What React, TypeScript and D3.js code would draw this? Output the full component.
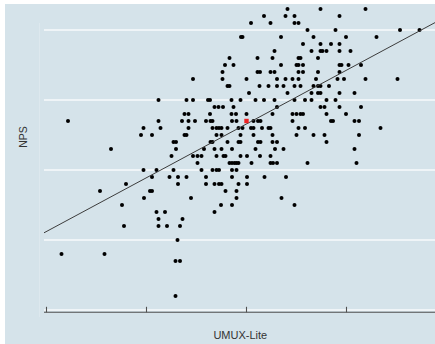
import { useEffect, useRef } from 'react';
import * as d3 from 'd3';

const X_TICKS = [20, 40, 60, 80];
const Y_GRID = [-100, -50, 0, 50, 100];

// NPS level of each row of points, and the UMUX-Lite scores sitting on that row
const NPS_LEVELS = [115, 110, 105, 100, 95, 90, 85, 80, 75, 70, 65, 60, 55, 50, 45, 40, 35, 30, 25, 20, 15, 10, 5, 0, -5, -10, -15, -20, -25, -30, -35, -40, -50, -60, -65, -90];
const UMUX_BY_LEVEL = [
  [68.2, 74.8, 83.8],
  [63.5, 67.8, 69.6, 78.6],
  [60.9, 64.8, 69.6, 70.4],
  [72.2, 77.8, 90.7, 94.6],
  [58.9, 59.2, 66.9, 73.4, 79.9, 86.0],
  [71.3, 74.8, 76.9, 78.6],
  [65.6, 73.0, 74.8, 75.2, 76.0, 78.6, 80.8],
  [56.6, 62.2, 65.2, 70.4, 70.8, 74.3],
  [55.7, 57.4, 66.9, 70.0, 70.4, 71.3, 78.6, 79.0, 80.4, 82.9],
  [55.2, 62.2, 62.7, 64.8, 65.6, 70.4, 71.3, 74.3, 78.6],
  [49.3, 55.2, 60.0, 66.1, 67.8, 69.2, 70.4, 73.9, 78.2, 79.5, 83.8, 90.2],
  [56.2, 56.6, 62.6, 64.4, 66.1, 67.4, 69.6, 70.8, 73.4, 74.3, 74.8, 76.5],
  [60.5, 68.2, 73.0, 74.3, 74.8, 78.6, 81.6],
  [42.4, 48.0, 49.3, 52.3, 52.7, 57.0, 58.8, 61.8, 63.5, 65.6, 69.6, 71.7, 73.0, 76.0, 77.8],
  [53.6, 54.4, 55.3, 57.4, 66.1, 74.8, 75.6, 78.6, 82.9],
  [47.6, 48.4, 52.7, 57.0, 57.9, 60.0, 65.2, 69.2, 70.0, 70.8, 71.3, 76.0, 79.9],
  [24.3, 42.4, 47.1, 48.4, 49.7, 51.9, 52.8, 53.2, 57.1, 58.0, 61.4, 62.3, 62.8, 69.2, 76.9, 77.3, 81.6, 82.5],
  [39.4, 42.8, 48.4, 53.2, 54.0, 54.5, 55.0, 56.2, 58.4, 59.2, 60.9, 61.4, 63.1, 64.4, 64.8, 70.4, 71.7, 86.8],
  [38.9, 41.1, 47.6, 48.0, 54.0, 55.0, 58.8, 61.4, 65.2, 70.0, 73.4, 75.6, 82.5],
  [45.4, 45.9, 52.8, 53.2, 56.2, 58.4, 58.8, 62.3, 62.8, 65.2, 66.1, 76.0],
  [32.9, 45.9, 51.5, 53.6, 55.0, 57.1, 61.8, 65.7, 67.4, 81.6],
  [45.0, 49.3, 50.2, 51.0, 54.0, 55.4, 55.8, 58.8, 60.1, 62.7, 64.8],
  [50.2, 56.6, 57.1, 57.6, 58.0, 58.4, 61.0, 64.8, 65.3, 66.1, 72.2, 82.0],
  [39.4, 42.0, 45.4, 51.0, 53.2, 54.0, 54.5, 57.1, 58.0],
  [41.1, 44.6, 46.3, 48.0, 51.9, 57.1, 60.1, 63.6, 67.9],
  [35.9, 46.3, 51.9, 53.6, 54.5, 55.0, 58.4, 60.1],
  [30.7, 40.7, 41.1, 55.8, 58.0],
  [39.5, 48.9, 58.0, 67.0],
  [35.1, 54.9, 57.1, 69.6],
  [42.0, 43.7, 53.6],
  [42.4, 47.2],
  [35.5, 42.4, 44.1, 46.7],
  [46.2],
  [23.0, 31.6],
  [45.8, 46.7],
  [45.8],
];

const MEAN = { umux: 60.0, nps: 35 };
const FIT = { intercept: -82.3, slope: 1.92 };

const W = 435;
const H = 344;

function Chart() {
  const svgRef = useRef<SVGSVGElement>(null);

  useEffect(() => {
    const svg = d3.select(svgRef.current);
    svg.selectAll('*').remove();

    const left = 44;
    const right = W;

    const x = d3.scaleLinear().domain([20, 80]).range([46.5, 346.5]);
    const y = d3.scaleLinear().domain([-100, 100]).range([310, 30]);

    const points = NPS_LEVELS.flatMap((nps, i) => UMUX_BY_LEVEL[i].map(u => ({ umux: u, nps })));

    svg.append('rect')
      .attr('x', 0).attr('y', 0)
      .attr('width', W).attr('height', H)
      .attr('fill', '#ffffff');

    svg.append('rect')
      .attr('x', 5).attr('y', 4)
      .attr('width', W - 5).attr('height', H - 4)
      .attr('fill', '#d5e3ea');

    // faint y axis
    svg.append('line')
      .attr('x1', 39.5).attr('x2', 39.5)
      .attr('y1', 23).attr('y2', 317)
      .attr('stroke', '#dde8ee')
      .attr('stroke-width', 1);

    svg.append('g')
      .selectAll('line')
      .data(Y_GRID)
      .enter()
      .append('line')
      .attr('x1', left).attr('x2', right)
      .attr('y1', d => y(d)).attr('y2', d => y(d))
      .attr('stroke', '#f7fafb')
      .attr('stroke-width', 1.6);

    // x axis with inward ticks
    const axisY = 312.3;
    svg.append('line')
      .attr('x1', left).attr('x2', right)
      .attr('y1', axisY).attr('y2', axisY)
      .attr('stroke', '#505050')
      .attr('stroke-width', 1.1);

    svg.append('g')
      .selectAll('line')
      .data(X_TICKS)
      .enter()
      .append('line')
      .attr('x1', d => x(d)).attr('x2', d => x(d))
      .attr('y1', axisY).attr('y2', axisY - 5.5)
      .attr('stroke', '#505050')
      .attr('stroke-width', 1.1);

    svg.append('g')
      .selectAll('circle')
      .data(points)
      .enter()
      .append('circle')
      .attr('cx', d => x(d.umux))
      .attr('cy', d => y(d.nps))
      .attr('r', 2)
      .attr('fill', '#000000');

    const x0 = x.invert(left);
    const x1 = x.invert(right);
    svg.append('line')
      .attr('x1', left).attr('y1', y(FIT.intercept + FIT.slope * x0))
      .attr('x2', right).attr('y2', y(FIT.intercept + FIT.slope * x1))
      .attr('stroke', '#3c3c3c')
      .attr('stroke-width', 1);

    svg.append('rect')
      .attr('x', x(MEAN.umux) - 2.2)
      .attr('y', y(MEAN.nps) - 2.2)
      .attr('width', 4.4).attr('height', 4.4)
      .attr('fill', '#ee2222');

    svg.append('text')
      .attr('x', 240.3)
      .attr('y', 339.3)
      .attr('text-anchor', 'middle')
      .attr('font-family', 'Liberation Sans, Arial, sans-serif')
      .attr('font-size', 11)
      .attr('fill', '#333333')
      .text('UMUX-Lite');

    svg.append('text')
      .attr('transform', 'translate(26.5,137) rotate(-90)')
      .attr('text-anchor', 'middle')
      .attr('font-family', 'Liberation Sans, Arial, sans-serif')
      .attr('font-size', 10.5)
      .attr('fill', '#333333')
      .text('NPS');
  }, []);

  return <svg ref={svgRef} width={W} height={H} style={{ display: 'block' }}></svg>;
}

export default function App() {
  return (
    <div style={{ position: 'fixed', left: 0, top: 0, width: W, height: H, overflow: 'hidden' }}>
      <Chart />
    </div>
  );
}
